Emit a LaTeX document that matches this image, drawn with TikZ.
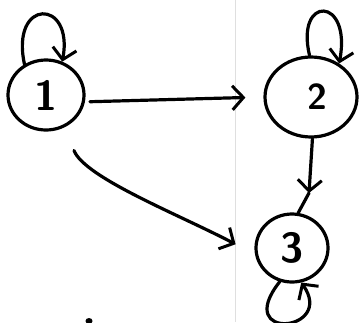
\documentclass[tikz,border=0pt]{standalone}
\usetikzlibrary{arrows.meta,shapes.geometric,calc}
\begin{document}
\begin{tikzpicture}[x=1pt,y=-1pt,
  st/.style={draw,ellipse,line width=3.2pt,inner sep=0pt,font=\sffamily\bfseries\fontsize{42}{42}\selectfont},
  edge/.style={line width=3.2pt,line cap=round},
  arr/.style={edge,-{Straight Barb[length=11pt,width=24pt,line width=3pt]}}]
\useasboundingbox (0,0) rectangle (364,322);
\draw[gray!25,line width=1pt] (235,0) -- (235,322);
\node[st,minimum width=76pt,minimum height=70pt] (n1) at (46,95) {1};
\node[st,minimum width=92pt,minimum height=80pt,font=\sffamily\bfseries\fontsize{36}{36}\selectfont] (n2) at (311,97) {\hspace{12pt}2};
\node[st,minimum width=72pt,minimum height=68pt] (n3) at (292,248) {3};
% self loops
\draw[arr] (n1.125) .. controls (10,-2) and (74,-2) .. (n1.64);
\draw[arr] (n2.92) .. controls (295,-5) and (352,-4) .. (n2.50);
\draw[arr] (n3.250) .. controls (232,342) and (336,332) .. (n3.285);
% 1 -> 2
\draw[arr,shorten <=5pt,shorten >=18pt] (n1.-10) -- (n2.180);
% 1 -> 3
\draw[arr,shorten <=25pt,shorten >=22pt] (n1.-60) .. controls (85,178) and (180,215) .. (n3.190);
% 2 -> 3
\coordinate (c23) at (309,193);
\draw[arr] (n2.272) -- (c23);
\draw[edge] (c23) -- (n3.80);
% stray pen mark
\fill (89,321) ellipse (3.5pt and 3pt);
\end{tikzpicture}
\end{document}
